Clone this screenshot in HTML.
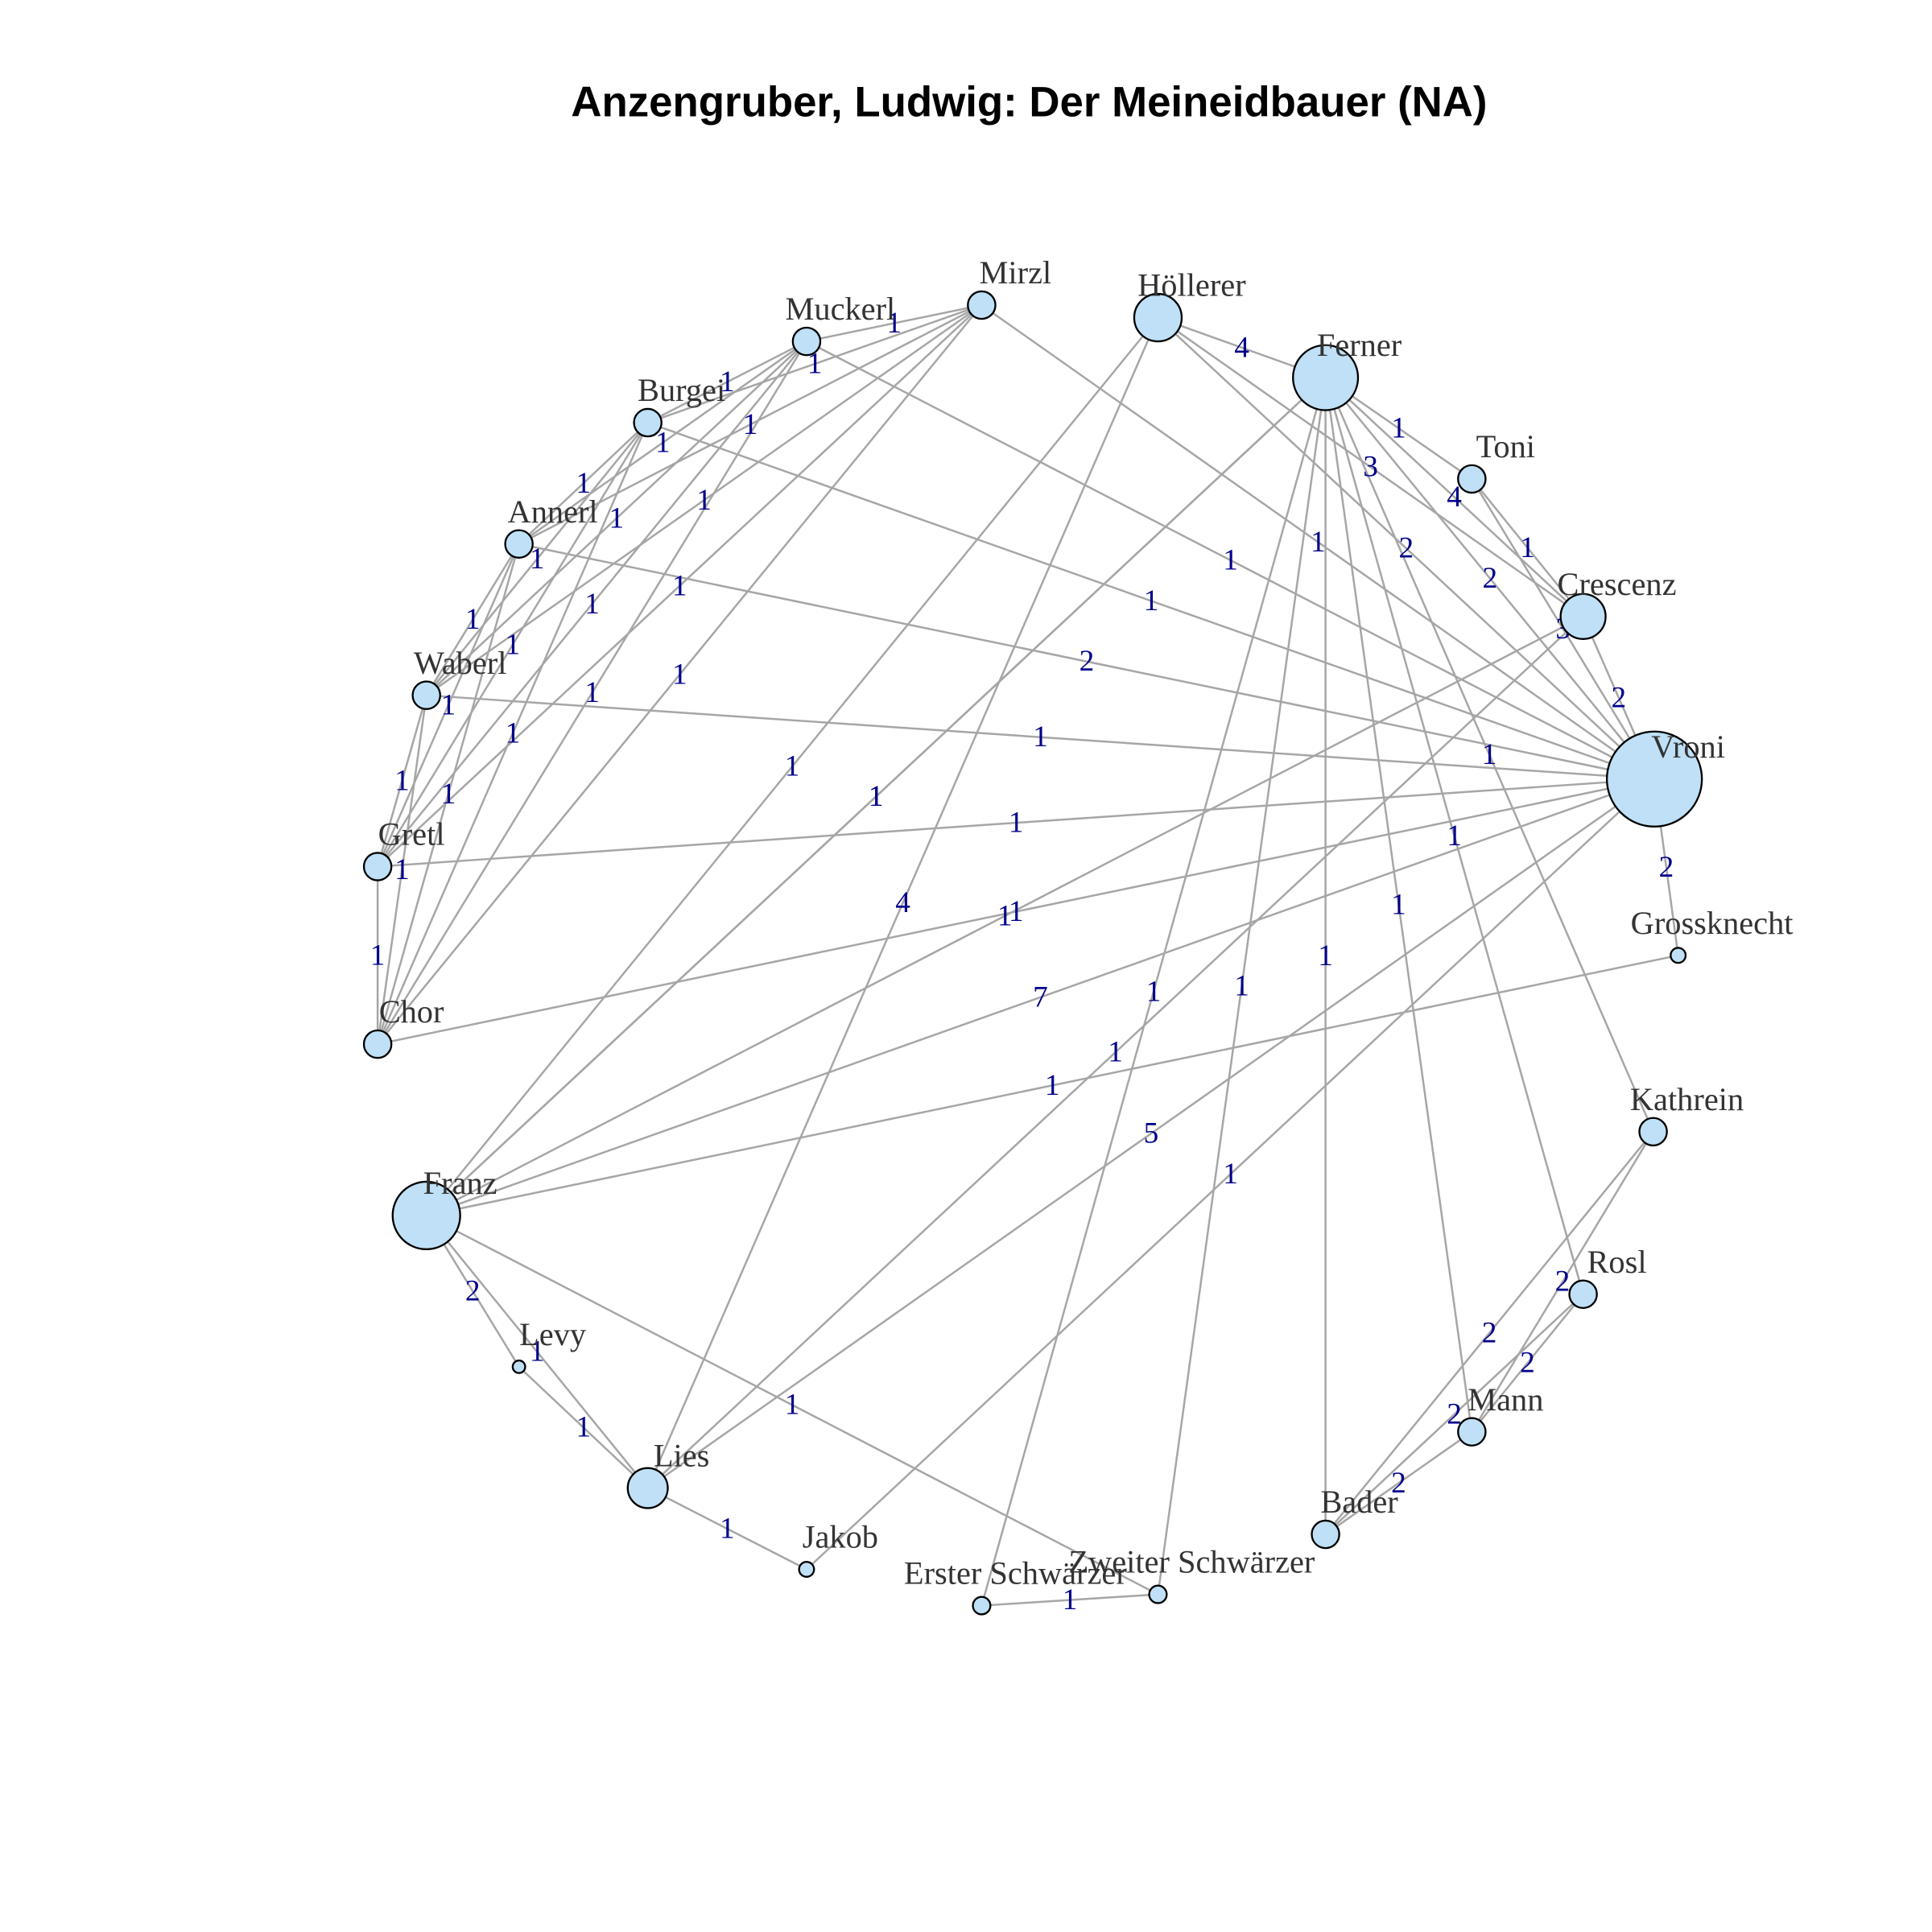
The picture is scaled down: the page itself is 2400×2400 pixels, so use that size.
<!DOCTYPE html>
<html><head><meta charset="utf-8"><style>
html,body{margin:0;padding:0;background:#fff;}
svg{display:block;}
</style></head><body>
<svg id="chart" width="2400" height="2400" viewBox="0 0 1545 1545" xmlns="http://www.w3.org/2000/svg">
<rect width="1545" height="1545" fill="#fff"/>
<text x="823" y="93" text-anchor="middle" font-family="Liberation Sans, sans-serif" font-weight="bold" font-size="34">Anzengruber, Ludwig: Der Meineidbauer (NA)</text>
<g id="edges"></g><g id="elabels"></g><g id="nodes"></g><g id="nlabels"></g>
</svg>
<script>
const nodeNames = ["Mirzl","Höllerer","Ferner","Toni","Crescenz","Vroni","Grossknecht","Kathrein","Rosl","Mann","Bader","Zweiter Schwärzer","Erster Schwärzer","Jakob","Lies","Levy","Franz","Chor","Gretl","Waberl","Annerl","Burgei","Muckerl"];
const nodeX = [785,926,1060,1177,1266,1323,1342,1322,1266,1177,1060,926,785,645,518,415,341,302,302,341,415,518,645];
const nodeY = [244,254,302,383,493,623,764,905,1035,1145,1227,1275,1284,1255,1190,1093,972,835,693,556,435,338,273];
const nodeSize = [11,19,26,11,18,38,6,11,11,11,11,7,7,6,16,5,27,11,11,11,11,11,11];
const edgeFrom = ["Mirzl","Mirzl","Mirzl","Mirzl","Mirzl","Mirzl","Muckerl","Muckerl","Muckerl","Muckerl","Muckerl","Burgei","Burgei","Burgei","Burgei","Annerl","Annerl","Annerl","Waberl","Waberl","Gretl",
"Mirzl","Muckerl","Burgei","Annerl","Waberl","Gretl","Chor",
"Franz","Franz","Franz","Franz","Franz","Höllerer","Höllerer","Höllerer","Höllerer",
"Ferner","Ferner","Ferner","Ferner","Ferner","Ferner","Ferner","Ferner","Ferner","Ferner",
"Toni","Toni","Crescenz","Crescenz","Vroni","Vroni","Vroni","Franz","Franz","Franz","Levy","Lies","Erster Schwärzer",
"Kathrein","Kathrein","Rosl","Rosl","Mann"];
const edgeTo = ["Muckerl","Burgei","Annerl","Waberl","Gretl","Chor","Burgei","Annerl","Waberl","Gretl","Chor","Annerl","Waberl","Gretl","Chor","Waberl","Gretl","Chor","Gretl","Chor","Chor",
"Vroni","Vroni","Vroni","Vroni","Vroni","Vroni","Vroni",
"Vroni","Höllerer","Ferner","Crescenz","Grossknecht","Ferner","Crescenz","Vroni","Lies",
"Toni","Crescenz","Vroni","Kathrein","Rosl","Mann","Bader","Zweiter Schwärzer","Erster Schwärzer","Franz",
"Vroni","Crescenz","Vroni","Lies","Grossknecht","Lies","Jakob","Levy","Lies","Zweiter Schwärzer","Lies","Jakob","Zweiter Schwärzer",
"Bader","Mann","Bader","Mann","Bader"];
const edgeWeight = [1,1,1,1,1,1,1,1,1,1,1,1,1,1,1,1,1,1,1,1,1,
1,1,1,2,1,1,1,
7,1,1,1,1,4,3,2,4,
1,4,2,1,1,1,1,1,1,1,
3,1,2,1,2,5,1,2,1,1,1,1,1,
2,2,2,2,2];
const NS="http://www.w3.org/2000/svg";
const idx = n => nodeNames.indexOf(n);
const eg=document.getElementById('edges'), el=document.getElementById('elabels'), ng=document.getElementById('nodes'), nl=document.getElementById('nlabels');
for(let i=0;i<edgeFrom.length;i++){
  const a=idx(edgeFrom[i]), b=idx(edgeTo[i]);
  const ln=document.createElementNS(NS,'line');
  ln.setAttribute('x1',nodeX[a]);ln.setAttribute('y1',nodeY[a]);ln.setAttribute('x2',nodeX[b]);ln.setAttribute('y2',nodeY[b]);
  ln.setAttribute('stroke','#a6a6a6');ln.setAttribute('stroke-width','1.6');
  
  
  eg.appendChild(ln);
  const t=document.createElementNS(NS,'text');
  t.setAttribute('x',(nodeX[a]+nodeX[b])/2);t.setAttribute('y',(nodeY[a]+nodeY[b])/2);
  t.setAttribute('text-anchor','middle');t.setAttribute('dominant-baseline','central');
  t.setAttribute('font-family','Liberation Serif, serif');t.setAttribute('font-size','24');t.setAttribute('fill','#00008b');
  t.textContent=edgeWeight[i];
  
  
  el.appendChild(t);
}
for(let i=0;i<nodeNames.length;i++){
  const c=document.createElementNS(NS,'circle');
  c.setAttribute('cx',nodeX[i]);c.setAttribute('cy',nodeY[i]);c.setAttribute('r',nodeSize[i]);
  c.setAttribute('fill','#bfe0f6');c.setAttribute('stroke','#000');c.setAttribute('stroke-width','1.5');
  
  
  ng.appendChild(c);
  const t=document.createElementNS(NS,'text');
  t.setAttribute('x',nodeX[i]+27);t.setAttribute('y',nodeY[i]-26);
  t.setAttribute('text-anchor','middle');t.setAttribute('dominant-baseline','central');
  t.setAttribute('font-family','Liberation Serif, serif');t.setAttribute('font-size','26');t.setAttribute('fill','#333');
  t.textContent=nodeNames[i];
  
  
  nl.appendChild(t);
}
</script>
</body></html>
